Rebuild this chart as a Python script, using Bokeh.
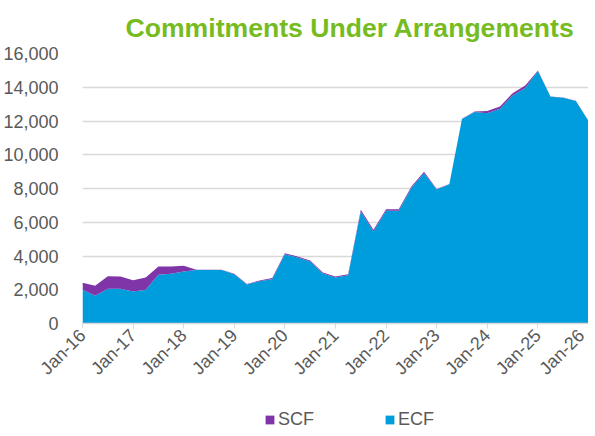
import math
from bokeh.plotting import figure
from bokeh.layouts import column
from bokeh.models import (ColumnDataSource, FixedTicker, NumeralTickFormatter,
                          Range1d, Legend, LegendItem)
from bokeh.embed import file_html
from bokeh.resources import INLINE

quarters = []
for yy in range(16, 27):
    for m in ["Jan", "Apr", "Jul", "Oct"]:
        quarters.append(f"{m}-{yy}")
quarters = quarters[:41]

ecf = [1995, 1640, 2054, 2060, 1900, 2000, 2885, 2950, 3080, 3170,
       3170, 3170, 2920, 2310, 2510, 2640, 4110, 3910, 3675, 2960,
       2725, 2865, 6640, 5450, 6675, 6675, 8040, 8910, 7940, 8250,
       12120, 12540, 12460, 12720, 13510, 13950, 14970, 13440, 13380, 13185,
       12000]
scf = [415, 590, 750, 725, 670, 725, 495, 430, 335, 20,
       20, 20, 30, 30, 40, 50, 60, 60, 60, 60,
       60, 60, 100, 100, 100, 100, 80, 80, 30, 20,
       10, 20, 140, 140, 140, 150, 20, 10, 10, 10,
       10]
series_names = ["SCF", "ECF"]

tick_labels = ["Jan-16", "Jan-17", "Jan-18", "Jan-19", "Jan-20", "Jan-21",
               "Jan-22", "Jan-23", "Jan-24", "Jan-25", "Jan-26"]
tick_pos = [quarters.index(t) for t in tick_labels]

BLUE = "#009DDC"
PURPLE = "#7F35A8"
GREEN = "#76BC21"
GREY = "#595959"
FONT = "Liberation Sans"

source = ColumnDataSource(dict(x=list(range(len(quarters))), ecf=ecf, scf=scf))

p = figure(frame_width=506, frame_height=270,
           output_backend="svg", toolbar_location=None,
           x_range=Range1d(0, len(quarters) - 1), y_range=Range1d(0, 16000),
           min_border_left=10, min_border_right=0, min_border_top=0,
           min_border_bottom=83)

p.title.text = "Commitments Under Arrangements"
p.title.text_color = GREEN
p.title.text_font = FONT
p.title.text_font_size = "26.6px"
p.title.text_font_style = "bold"
p.title.align = "left"
p.title.offset = 43
p.title.standoff = 21

renderers = p.varea_stack(["ecf", "scf"], x="x", source=source,
                          color=[BLUE, PURPLE])

p.outline_line_color = None
p.xgrid.grid_line_color = None
p.ygrid.grid_line_color = "#D9D9D9"
p.ygrid.grid_line_width = 1.5

p.yaxis.ticker = FixedTicker(ticks=list(range(0, 16001, 2000)))
p.yaxis.formatter = NumeralTickFormatter(format="0,0")
p.yaxis.axis_line_color = None
p.yaxis.major_tick_line_color = None
p.yaxis.minor_tick_line_color = None
p.yaxis.major_label_standoff = 18

p.xaxis.ticker = FixedTicker(ticks=tick_pos)
p.xaxis.major_label_overrides = {pos: lab for pos, lab in zip(tick_pos, tick_labels)}
p.xaxis.major_label_orientation = math.pi / 4
p.xaxis.axis_line_color = "#D9D9D9"
p.xaxis.axis_line_width = 1.5
p.xaxis.major_tick_line_color = "#D9D9D9"
p.xaxis.major_tick_in = 0
p.xaxis.major_tick_out = 5
p.xaxis.minor_tick_line_color = None
p.xaxis.major_label_standoff = 4

for ax in (p.xaxis, p.yaxis):
    ax.major_label_text_font = FONT
    ax.major_label_text_font_size = "18px"
    ax.major_label_text_color = GREY

# legend strip below the chart (its areas lie outside its visible range)
lg = figure(width=579, height=22, output_backend="svg", toolbar_location=None,
            x_range=Range1d(1000, 1001), y_range=Range1d(0, 1),
            min_border_left=0, min_border_right=0, min_border_top=0,
            min_border_bottom=0)
lg.axis.visible = False
lg.grid.visible = False
lg.outline_line_color = None
lg_r = lg.varea_stack(["ecf", "scf"], x="x", source=source,
                      color=[BLUE, PURPLE])
legend = Legend(items=[LegendItem(label=series_names[0], renderers=[lg_r[1]]),
                       LegendItem(label=series_names[1], renderers=[lg_r[0]])],
                orientation="horizontal", location=(182, -2),
                label_text_font=FONT, label_text_font_size="18px",
                label_text_color=GREY, glyph_width=11, glyph_height=11,
                spacing=70, label_standoff=3, border_line_color=None,
                background_fill_alpha=0, margin=0, padding=0)
lg.add_layout(legend)

layout = column(p, lg, spacing=0)
open("out.html", "w").write(file_html(layout, INLINE))
